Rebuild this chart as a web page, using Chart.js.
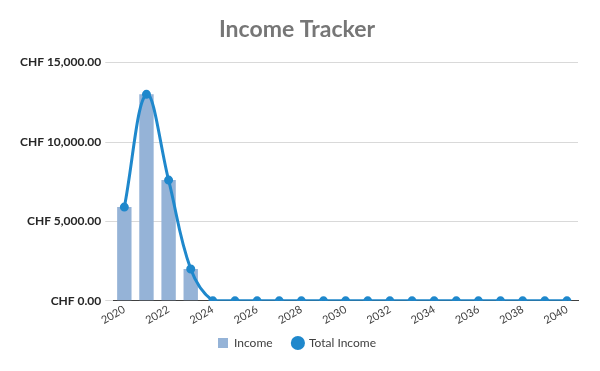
<!DOCTYPE html>
<html><head><meta charset="utf-8">
<script src="https://cdn.jsdelivr.net/npm/chart.js@4"></script>
<style>html,body{margin:0;padding:0;background:#fff}#wrap{width:600px;height:371px}</style>
</head><body><div id="wrap"><canvas id="c" width="600" height="371"></canvas></div>
<script>
const years = ["2020","2021","2022","2023","2024","2025","2026","2027","2028","2029","2030","2031","2032","2033","2034","2035","2036","2037","2038","2039","2040"];
const income = [5900,13000,7600,2000,0,0,0,0,0,0,0,0,0,0,0,0,0,0,0,0,0];
const totalIncome = [5900,13000,7600,2000,0,0,0,0,0,0,0,0,0,0,0,0,0,0,0,0,0];
const yTicks = [0,5000,10000,15000];
const fontFam = "Lato, 'Open Sans', sans-serif";
new Chart(document.getElementById('c'), {
  data: {
    labels: years,
    datasets: [
      {type:'line', label:'Total Income', data: totalIncome, borderColor:'#1F88CC', backgroundColor:'#1F88CC', borderWidth:3, pointRadius:3, pointHoverRadius:3, tension:0.38, order:0},
      {type:'bar', label:'Income', data: income, backgroundColor:'#95B3D7', barPercentage:0.65, categoryPercentage:1, order:1}
    ]
  },
  options: {
    responsive:false, animation:false,
    layout:{padding:{left:16,right:22,top:0,bottom:12}},
    plugins:{
      title:{display:true, text:'Income Tracker', color:'#767676', font:{family:fontFam, size:23, weight:'bold'}, padding:{top:16,bottom:19}},
      legend:{position:'bottom', labels:{usePointStyle:true, color:'#404040', font:{family:fontFam, size:12}, boxWidth:10, boxHeight:10, padding:8,
        generateLabels(chart){
          return [
            {text:'Income    ', fillStyle:'#95B3D7', strokeStyle:'#95B3D7', lineWidth:0, pointStyle:'rect', datasetIndex:1, fontColor:'#404040'},
            {text:'Total Income', fillStyle:'#1F88CC', strokeStyle:'#1F88CC', lineWidth:0, pointStyle:'circle', datasetIndex:0, fontColor:'#404040'}
          ];
        }}},
      tooltip:{enabled:false}
    },
    scales:{
      x:{grid:{display:false, drawTicks:false}, border:{display:true, color:'#404040', width:1},
        ticks:{autoSkip:false, maxRotation:30, minRotation:30, color:'#404040', font:{family:fontFam, size:11}, padding:2,
          callback(v,i){ return i%2===0 ? years[i] : ''; }}},
      y:{min:0, max:15000, afterBuildTicks(s){ s.ticks = yTicks.map(v=>({value:v})); },
        grid:{color:'#D9D9D9', drawTicks:true, tickLength:8, tickColor:'#D9D9D9'}, border:{display:false},
        ticks:{color:'#262626', font:{family:fontFam, size:12, weight:'bold'}, padding:4,
          callback(v){ return 'CHF ' + Number(v).toLocaleString('en-US',{minimumFractionDigits:2, maximumFractionDigits:2}); }}}
    }
  }
});
</script></body></html>
